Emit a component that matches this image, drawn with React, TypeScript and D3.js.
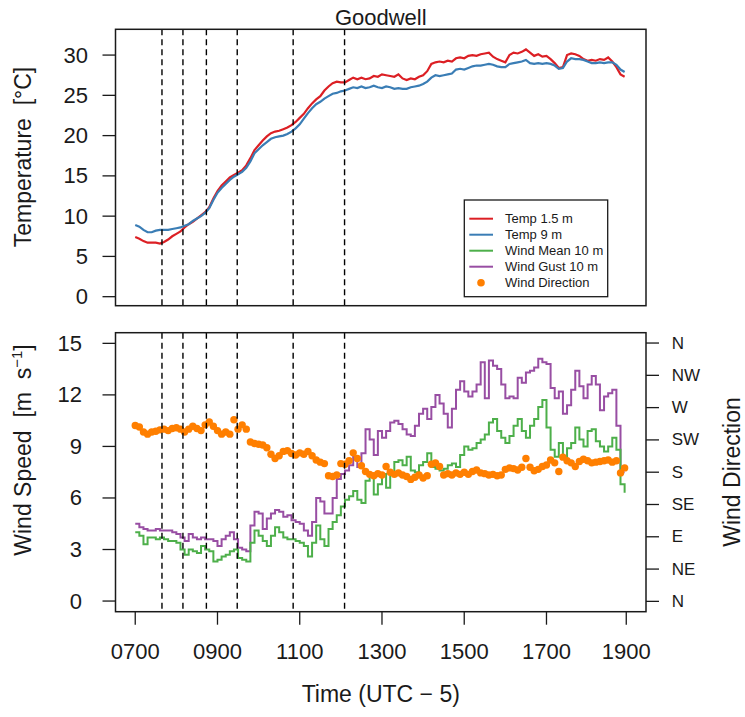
import React from 'react';
import * as d3 from 'd3';

// Sampling clock: one record every 6 minutes starting 07:00 local (UTC-5)
const sampleStartHour = 7;
const sampleStepMinutes = 6;

// Air temperature at 1.5 m [°C]
const temp15m = [
  7.4, 7.2, 6.9, 6.7, 6.7, 6.7, 6.6, 6.8, 7.1, 7.5,
  7.8, 8.1, 8.6, 9.0, 9.3, 9.7, 10.1, 10.5, 11.1, 12.2,
  13.1, 13.8, 14.3, 14.8, 15.1, 15.4, 15.7, 16.3, 17.2, 18.2,
  18.8, 19.4, 19.9, 20.3, 20.5, 20.6, 20.8, 21.0, 21.3, 21.7,
  22.2, 22.7, 23.4, 24.0, 24.5, 24.9, 25.6, 26.1, 26.5, 26.7,
  26.6, 26.6, 26.9, 27.2, 27.0, 27.2, 27.0, 27.1, 27.4, 27.3,
  27.6, 27.5, 27.4, 27.3, 27.6, 27.1, 26.9, 27.1, 27.0, 27.3,
  27.5, 28.0, 28.9, 29.1, 29.2, 29.1, 29.3, 29.2, 29.6, 29.7,
  29.6, 29.9, 30.0, 29.9, 30.1, 30.2, 30.3, 29.8, 29.5, 29.3,
  29.1, 30.0, 30.3, 30.2, 30.4, 30.7, 30.3, 29.9, 30.1, 29.8,
  29.9, 29.5, 29.0, 28.4, 28.5, 30.0, 30.2, 30.1, 29.9, 29.5,
  29.3, 29.4, 29.3, 29.5, 29.4, 29.7, 29.2, 28.5, 27.6, 27.3,
];

// Air temperature at 9 m [°C]
const temp9m = [
  8.9, 8.7, 8.3, 8.0, 8.0, 8.2, 8.3, 8.3, 8.3, 8.4,
  8.5, 8.6, 8.8, 9.0, 9.4, 9.7, 10.0, 10.4, 11.0, 12.0,
  12.9, 13.5, 14.0, 14.5, 14.9, 15.2, 15.5, 16.0, 16.8, 17.8,
  18.3, 18.8, 19.2, 19.6, 19.8, 19.9, 20.0, 20.2, 20.5, 20.9,
  21.4, 22.1, 22.8, 23.4, 23.9, 24.2, 24.6, 24.9, 25.2, 25.3,
  25.5, 25.6, 25.8, 26.0, 25.9, 26.1, 25.9, 26.0, 26.2, 26.0,
  25.9, 26.1, 26.0, 25.8, 25.9, 25.8, 25.8, 26.0, 26.1, 26.2,
  26.4, 26.7, 27.2, 27.5, 27.4, 27.5, 27.6, 27.7, 28.2, 28.3,
  28.2, 28.4, 28.6, 28.7, 28.7, 28.8, 28.9, 28.8, 28.6, 28.5,
  28.5, 28.9, 29.0, 29.1, 29.2, 29.4, 29.0, 28.9, 29.0, 28.9,
  29.0, 28.9, 28.7, 28.3, 28.4, 29.2, 29.6, 29.5, 29.5, 29.4,
  29.2, 29.0, 29.0, 29.1, 29.0, 29.1, 29.1, 28.8, 28.2, 27.9,
];

// Mean wind speed at 10 m [m/s]
const windMean10m = [
  4.0, 3.8, 3.3, 3.7, 3.7, 3.6, 3.7, 3.6, 3.5, 3.5,
  3.4, 3.0, 2.7, 3.0, 2.9, 2.8, 3.2, 3.0, 2.9, 2.3,
  2.4, 2.6, 2.7, 2.9, 3.0, 2.5, 2.4, 2.3, 3.4, 4.1,
  3.8, 3.5, 3.2, 3.8, 4.3, 4.0, 3.7, 3.6, 3.6, 3.5,
  3.4, 3.2, 2.6, 3.4, 4.4, 3.6, 3.2, 4.2, 4.6, 5.0,
  5.5, 5.9, 6.1, 6.4, 5.9, 5.7, 7.0, 7.3, 6.2, 6.8,
  7.4, 6.6, 7.4, 8.1, 8.2, 7.9, 8.4, 7.6, 7.5, 7.9,
  8.1, 8.6, 7.8, 7.7, 7.6, 7.7, 7.9, 8.0, 7.8, 8.5,
  9.0, 8.8, 8.9, 9.2, 9.4, 9.7, 10.4, 10.6, 9.9, 9.5,
  9.2, 9.6, 10.2, 10.6, 9.9, 9.5, 10.2, 10.6, 11.3, 11.7,
  10.1, 8.8, 8.4, 9.2, 8.3, 8.9, 9.2, 10.1, 9.4, 9.0,
  9.9, 10.0, 9.3, 9.0, 8.7, 9.0, 9.5, 8.8, 6.8, 6.3,
];

// Wind gust at 10 m [m/s]
const windGust10m = [
  4.5, 4.3, 4.2, 4.1, 4.1, 4.2, 4.1, 4.1, 4.1, 4.0,
  3.9, 3.7, 3.5, 3.9, 3.7, 3.6, 3.7, 3.6, 3.6, 3.5,
  3.2, 3.6, 3.8, 4.0, 3.6, 3.1, 3.0, 2.9, 4.4, 5.2,
  5.1, 4.2, 4.8, 5.1, 5.3, 5.2, 4.9, 5.0, 4.7, 4.6,
  4.5, 4.1, 3.8, 4.6, 6.0, 5.8, 5.1, 5.1, 6.0, 7.1,
  7.4, 7.6, 7.9, 8.4, 7.8, 8.6, 10.0, 9.4, 8.5, 9.9,
  9.5, 9.9, 10.4, 10.5, 10.3, 10.0, 9.7, 9.6, 10.2, 10.9,
  11.2, 10.6, 11.3, 12.0, 11.5, 10.9, 10.1, 11.2, 12.3, 12.8,
  12.2, 11.9, 12.2, 12.6, 13.9, 11.8, 14.0, 13.7, 13.5, 12.6,
  11.8, 11.9, 11.8, 13.0, 12.7, 13.3, 13.4, 13.6, 14.1, 13.9,
  13.8, 12.4, 11.8, 12.2, 10.9, 11.4, 12.3, 13.4, 12.5, 11.8,
  12.6, 13.1, 12.6, 11.1, 11.9, 12.1, 12.3, 10.2, 7.5, 7.5,
];

// Wind direction [degrees from north]
const windDirection = [
  245, 243, 236, 233, 236, 237, 239, 240, 238, 241,
  242, 240, 236, 240, 244, 241, 238, 246, 250, 244,
  238, 233, 236, 233, 253, 240, 246, 240, 222, 220,
  219, 218, 214, 205, 199, 203, 209, 210, 206, 204,
  207, 205, 209, 203, 197, 194, 192, 175, 174, 176,
  192, 191, 196, 207, 199, 189, 181, 177, 175, 178,
  176, 188, 180, 177, 179, 176, 174, 170, 173, 176,
  172, 175, 191, 193, 188, 176, 178, 176, 179, 177,
  180, 177, 181, 183, 179, 178, 176, 177, 175, 176,
  184, 186, 185, 183, 187, 199, 187, 182, 184, 188,
  190, 197, 193, 181, 201, 196, 193, 188, 195, 198,
  196, 193, 194, 195, 196, 197, 194, 196, 179, 186,
];

// Times (decimal hours) of the marked events
const eventHours = [7.65, 8.16, 8.73, 9.48, 10.84, 12.09];

const tempTicks = [0, 5, 10, 15, 20, 25, 30];
const speedTicks = [0, 3, 6, 9, 12, 15];
const dirTicks = [0, 45, 90, 135, 180, 225, 270, 315, 360];
const dirLabels = ['N', 'NE', 'E', 'SE', 'S', 'SW', 'W', 'NW', 'N'];
const timeTicks = [7, 9, 11, 13, 15, 17, 18.94];
const timeLabels = ['0700', '0900', '1100', '1300', '1500', '1700', '1900'];

const legendLabels = ['Temp 1.5 m', 'Temp 9 m', 'Wind Mean 10 m', 'Wind Gust 10 m', 'Wind Direction'];

const RED = '#DC1F24';
const BLUE = '#3A7DB5';
const GREEN = '#4DAF4A';
const PURPLE = '#984EA3';
const ORANGE = '#FF7F00';

const FONT = '"Liberation Sans", Arial, Helvetica, sans-serif';
const INK = '#1a1a1a';

const hours = temp15m.map((_, i) => sampleStartHour + (i * sampleStepMinutes) / 60);

const W = 745;
const H = 717;
const left = 115.5;
const right = 646;
const top1 = 29.3;
const bot1 = 305.7;
const top2 = 332.7;
const bot2 = 611.7;

const x = d3.scaleLinear().domain([6.52, 19.42]).range([left, right]);
const yT = d3.scaleLinear().domain([-1.12, 33.2]).range([bot1, top1]);
const yS = d3.scaleLinear().domain([-0.62, 15.62]).range([bot2, top2]);
const yD = d3.scaleLinear().domain([-14.4, 374.4]).range([bot2, top2]);

function seriesPath(values: number[], y: d3.ScaleLinear<number, number>, curve: d3.CurveFactory) {
  const line = d3
    .line<number>()
    .x((_, i) => x(hours[i]))
    .y((v) => y(v))
    .curve(curve);
  return line(values) || '';
}

export default function App() {
  const tick = 13;
  const legendX = 464.3;
  const legendY = 200;
  const legendW = 143.4;
  const legendH = 96.7;
  const rowY = (i: number) => legendY + 18.7 + i * 16;

  const eventLines = (y0: number, y1: number) =>
    eventHours.map((h, i) => (
      <line
        key={i}
        x1={x(h)}
        x2={x(h)}
        y1={y0}
        y2={y1}
        stroke="#000"
        strokeWidth={1.4}
        strokeDasharray="6,4"
      />
    ));

  return (
    <svg
      width={W}
      height={H}
      viewBox={`0 0 ${W} ${H}`}
      style={{ position: 'absolute', left: 0, top: 0, background: '#fff' }}
      fontFamily={FONT}
    >
      <rect x={0} y={0} width={W} height={H} fill="#fff" />

      {/* Title */}
      <text x={(left + right) / 2} y={25} textAnchor="middle" fontSize={22} fill={INK}>
        Goodwell
      </text>

      {/* ---------- Temperature panel ---------- */}
      <path d={seriesPath(temp15m, yT, d3.curveLinear)} fill="none" stroke={RED} strokeWidth={2.2} />
      <path d={seriesPath(temp9m, yT, d3.curveLinear)} fill="none" stroke={BLUE} strokeWidth={2.2} />
      {eventLines(top1, bot1)}
      <rect x={left} y={top1} width={right - left} height={bot1 - top1} fill="none" stroke={INK} strokeWidth={1.5} />
      {tempTicks.map((t) => (
        <g key={t}>
          <line x1={left - tick} x2={left} y1={yT(t)} y2={yT(t)} stroke={INK} strokeWidth={1.3} />
          <text x={88} y={yT(t)} textAnchor="end" dominantBaseline="central" fontSize={22} fill={INK}>
            {t}
          </text>
        </g>
      ))}
      <text
        transform={`translate(31, 157) rotate(-90)`}
        textAnchor="middle"
        fontSize={23}
        fill={INK}
        xmlSpace="preserve"
      >
        Temperature  [°C]
      </text>

      {/* Legend */}
      <rect x={legendX} y={legendY} width={legendW} height={legendH} fill="#fff" stroke={INK} strokeWidth={1.3} />
      {legendLabels.map((label, i) => {
        const cy = rowY(i);
        const color = [RED, BLUE, GREEN, PURPLE, ORANGE][i];
        return (
          <g key={label}>
            {i < 4 ? (
              <line x1={469.3} x2={493} y1={cy} y2={cy} stroke={color} strokeWidth={2} />
            ) : (
              <circle cx={481} cy={cy} r={3.8} fill={color} />
            )}
            <text x={505} y={cy} dominantBaseline="central" fontSize={13} fill={INK}>
              {label}
            </text>
          </g>
        );
      })}

      {/* ---------- Wind panel ---------- */}
      <path d={seriesPath(windGust10m, yS, d3.curveStepAfter)} fill="none" stroke={PURPLE} strokeWidth={2} />
      <path d={seriesPath(windMean10m, yS, d3.curveStepAfter)} fill="none" stroke={GREEN} strokeWidth={2} />
      {windDirection.map((d, i) => (
        <circle key={i} cx={x(hours[i])} cy={yD(d)} r={3.7} fill={ORANGE} />
      ))}
      {eventLines(top2, bot2)}
      <rect x={left} y={top2} width={right - left} height={bot2 - top2} fill="none" stroke={INK} strokeWidth={1.5} />

      {speedTicks.map((s) => (
        <g key={s}>
          <line x1={left - tick} x2={left} y1={yS(s)} y2={yS(s)} stroke={INK} strokeWidth={1.3} />
          <text x={82} y={yS(s)} textAnchor="end" dominantBaseline="central" fontSize={22} fill={INK}>
            {s}
          </text>
        </g>
      ))}
      <text transform={`translate(31, 450) rotate(-90)`} textAnchor="middle" fontSize={23} fill={INK} xmlSpace="preserve">
        Wind Speed  [m  s
        <tspan dy={-9} fontSize={15}>−1</tspan>
        <tspan dy={9}>]</tspan>
      </text>

      {dirTicks.map((d, i) => (
        <g key={i}>
          <line x1={right} x2={right + tick} y1={yD(d)} y2={yD(d)} stroke={INK} strokeWidth={1.3} />
          <text x={671.7} y={yD(d)} dominantBaseline="central" fontSize={17} fill={INK}>
            {dirLabels[i]}
          </text>
        </g>
      ))}
      <text transform={`translate(740, 472) rotate(-90)`} textAnchor="middle" fontSize={23} fill={INK}>
        Wind Direction
      </text>

      {timeTicks.map((t, i) => (
        <g key={t}>
          <line x1={x(t)} x2={x(t)} y1={bot2} y2={bot2 + tick} stroke={INK} strokeWidth={1.3} />
          <text x={x(t)} y={659} textAnchor="middle" fontSize={22} fill={INK}>
            {timeLabels[i]}
          </text>
        </g>
      ))}
      <text x={(left + right) / 2} y={702} textAnchor="middle" fontSize={23} fill={INK}>
        Time (UTC − 5)
      </text>
    </svg>
  );
}
